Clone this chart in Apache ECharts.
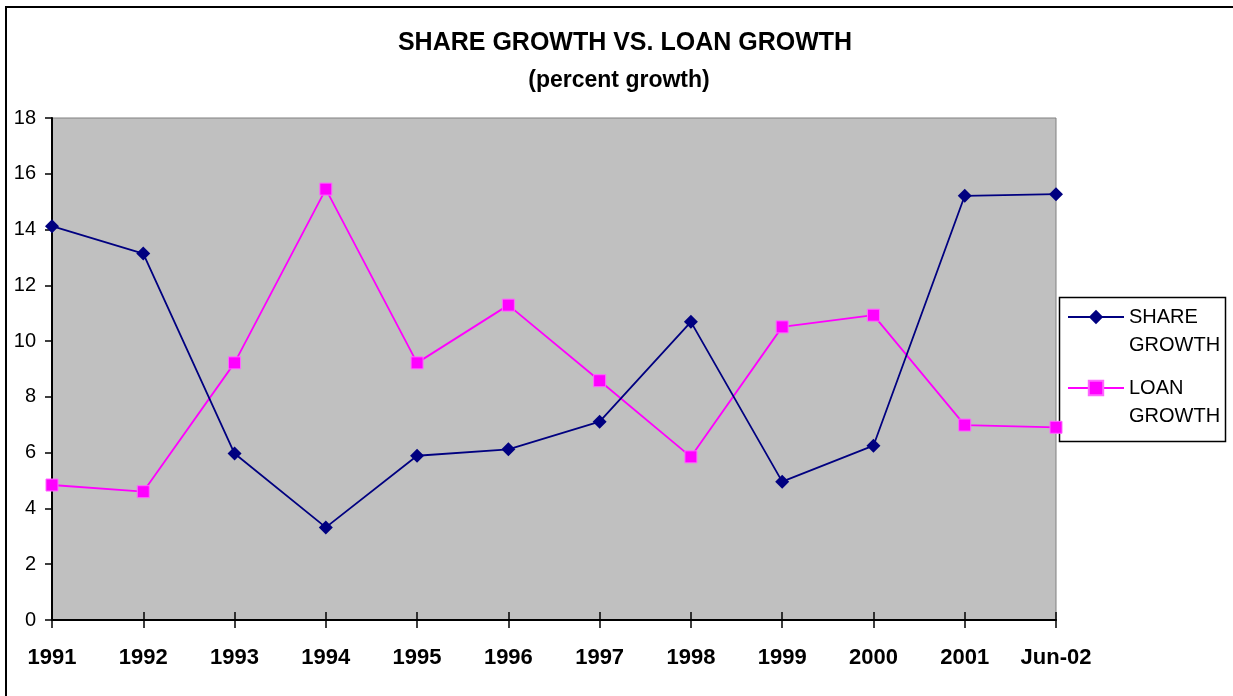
<!DOCTYPE html>
<html>
<head>
<meta charset="utf-8">
<script src="https://cdn.jsdelivr.net/npm/echarts@6/dist/echarts.min.js"></script>
<style>
html,body{margin:0;padding:0;background:#fff;}
#chart{width:1233px;height:696px;}
</style>
</head>
<body>
<div id="chart"></div>
<script>
const categories = ['1991','1992','1993','1994','1995','1996','1997','1998','1999','2000','2001','Jun-02'];
const shareGrowth = [14.12, 13.14, 5.97, 3.32, 5.89, 6.12, 7.11, 10.69, 4.96, 6.25, 15.21, 15.27];
const loanGrowth = [4.84, 4.6, 9.22, 15.45, 9.22, 11.29, 8.58, 5.85, 10.51, 10.93, 6.99, 6.91];
const yTicks = {min: 0, max: 18, interval: 2};

const chart = echarts.init(document.getElementById('chart'), null, {renderer: 'canvas'});
const font = 'Arial, "Liberation Sans", sans-serif';
chart.setOption({
  animation: false,
  backgroundColor: '#ffffff',
  title: [{
    text: 'SHARE GROWTH VS. LOAN GROWTH',
    left: 620,
    top: 23,
    textAlign: 'center',
    textStyle: {fontFamily: font, fontSize: 25, fontWeight: 'bold', color: '#000', lineHeight: 30}
  }, {
    text: '(percent growth)',
    left: 614,
    top: 61,
    textAlign: 'center',
    textStyle: {fontFamily: font, fontSize: 23, fontWeight: 'bold', color: '#000', lineHeight: 30}
  }],
  graphic: [{
    type: 'rect',
    shape: {x: 6, y: 7, width: 1400, height: 900},
    style: {fill: 'none', stroke: '#000', lineWidth: 2},
    silent: true,
    z: 100
  }, {
    type: 'rect',
    shape: {x: 1059.5, y: 297.5, width: 166, height: 144},
    style: {fill: '#fff', stroke: '#000', lineWidth: 1.5},
    silent: true,
    z: 0
  }],
  legend: {
    orient: 'vertical',
    left: 1067,
    top: 275,
    padding: 0,
    itemWidth: 56,
    itemHeight: 18,
    itemGap: -13,
    z: 10,
    formatter: function (name) { return ' \n' + name; },
    textStyle: {fontFamily: font, fontSize: 20, color: '#000', lineHeight: 28},
    data: [
      {name: 'SHARE\nGROWTH'},
      {name: 'LOAN\nGROWTH'}
    ]
  },
  grid: {
    left: 52, top: 118, width: 1004, height: 502,
    show: true, backgroundColor: '#C0C0C0', borderColor: '#808080', borderWidth: 1
  },
  xAxis: [{
    type: 'category',
    data: categories,
    boundaryGap: false,
    axisLine: {lineStyle: {color: '#000', width: 2}},
    axisTick: {show: true, length: 8, interval: 0, lineStyle: {color: '#000', width: 1.5}},
    axisLabel: {interval: 0, fontFamily: font, fontSize: 22, fontWeight: 'bold', color: '#000', margin: 27, lineHeight: 22},
    splitLine: {show: false}
  }, {
    type: 'category',
    data: categories,
    boundaryGap: false,
    position: 'bottom',
    axisLine: {show: false},
    axisTick: {show: true, inside: true, interval: 0, length: 8, lineStyle: {color: '#000', width: 1.5}},
    axisLabel: {show: false},
    splitLine: {show: false}
  }],
  yAxis: {
    type: 'value',
    min: yTicks.min, max: yTicks.max, interval: yTicks.interval,
    axisLine: {show: true, lineStyle: {color: '#000', width: 2}},
    axisTick: {show: true, length: 7, lineStyle: {color: '#000', width: 1.5}},
    axisLabel: {fontFamily: font, fontSize: 20, color: '#000', margin: 16},
    splitLine: {show: false}
  },
  series: [{
    name: 'SHARE\nGROWTH',
    type: 'line',
    data: shareGrowth,
    symbol: 'diamond',
    symbolSize: 14,
    showAllSymbol: true,
    lineStyle: {color: '#000080', width: 1.8},
    itemStyle: {color: '#000080', borderColor: '#000080', borderWidth: 0},
    z: 3
  }, {
    name: 'LOAN\nGROWTH',
    type: 'line',
    data: loanGrowth,
    symbol: 'rect',
    symbolSize: 12,
    showAllSymbol: true,
    lineStyle: {color: '#FF00FF', width: 1.8},
    itemStyle: {color: '#FF00FF', borderColor: '#FF66FF', borderWidth: 1},
    z: 2
  }]
});
</script>
</body>
</html>
